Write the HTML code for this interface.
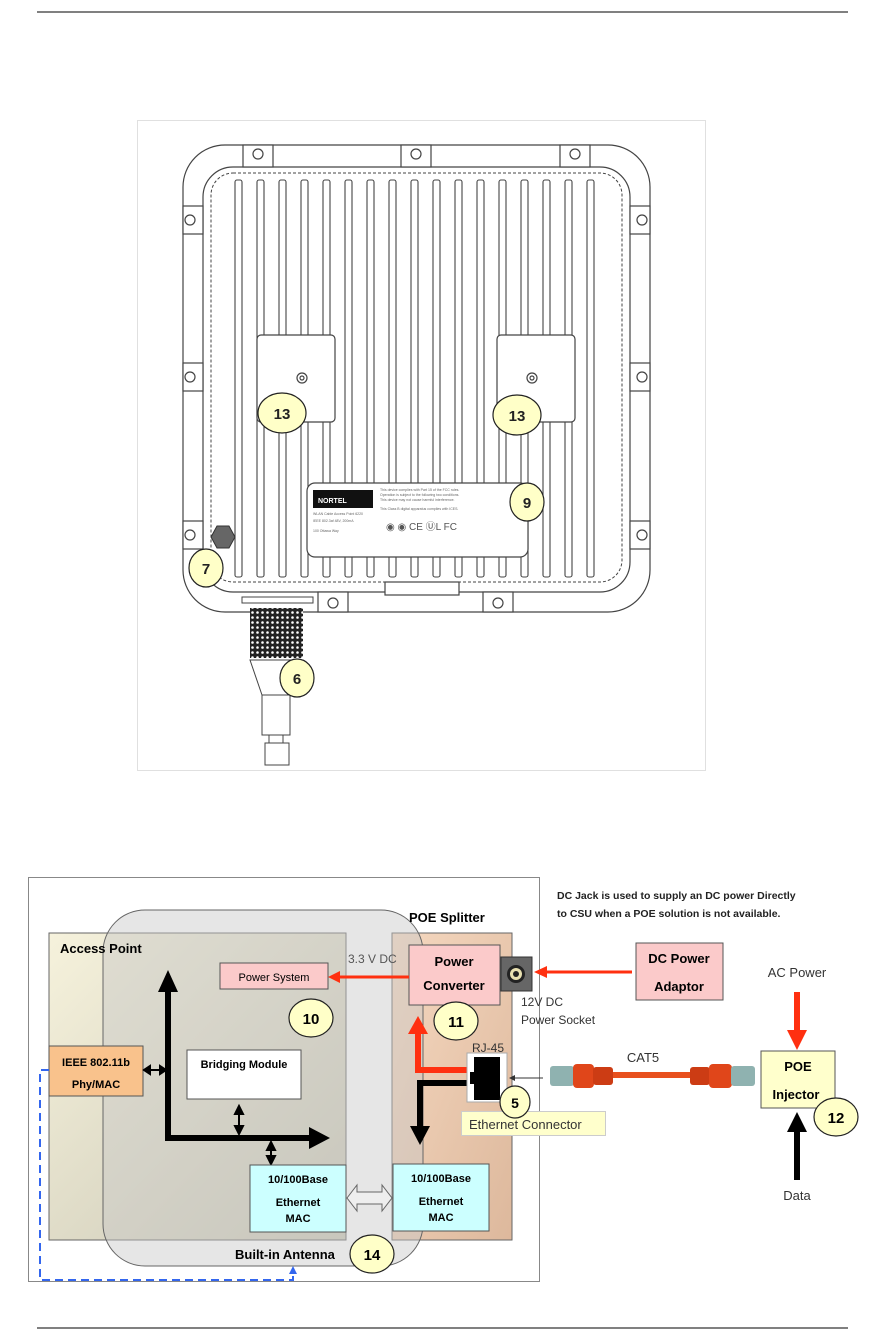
<!DOCTYPE html>
<html><head><meta charset="utf-8"><style>
html,body{margin:0;padding:0;background:#fff;}
svg{display:block;font-family:"Liberation Sans",Arial,sans-serif;}
</style></head><body>
<svg width="883" height="1341" viewBox="0 0 883 1341" xmlns="http://www.w3.org/2000/svg">
<defs>
<linearGradient id="apg" x1="0" y1="0" x2="1" y2="1">
<stop offset="0" stop-color="#f6f2dc"/><stop offset="1" stop-color="#c9c6b4"/></linearGradient>
<linearGradient id="poeg" x1="0" y1="0" x2="1" y2="1">
<stop offset="0" stop-color="#f5d8c0"/><stop offset="1" stop-color="#ddb89c"/></linearGradient>
<pattern id="knurl" width="5" height="5" patternUnits="userSpaceOnUse">
<rect width="5" height="5" fill="#222"/><circle cx="2.5" cy="2.5" r="1.3" fill="#fff"/></pattern>
</defs>
<line x1="37" y1="12" x2="848" y2="12" stroke="#000" stroke-width="1"/>
<line x1="37" y1="1328" x2="848" y2="1328" stroke="#000" stroke-width="1"/>

<!-- TOP FIGURE -->
<rect x="137.5" y="120.5" width="568" height="650" fill="#fff" stroke="#e0e0e0"/>
<g stroke="#444" fill="none" stroke-width="1.2">
<rect x="183" y="145" width="467" height="467" rx="42"/>
<rect x="203" y="167" width="427" height="425" rx="30"/>
<rect x="211" y="173" width="411" height="409" rx="22" stroke-dasharray="3,2" stroke-width="1"/>
</g>
<!-- fins -->
<g stroke="#444" fill="#fff" stroke-width="1.1">
<rect x="235" y="180" width="7" height="397" rx="2"/>
<rect x="257" y="180" width="7" height="397" rx="2"/>
<rect x="279" y="180" width="7" height="397" rx="2"/>
<rect x="301" y="180" width="7" height="397" rx="2"/>
<rect x="323" y="180" width="7" height="397" rx="2"/>
<rect x="345" y="180" width="7" height="397" rx="2"/>
<rect x="367" y="180" width="7" height="397" rx="2"/>
<rect x="389" y="180" width="7" height="397" rx="2"/>
<rect x="411" y="180" width="7" height="397" rx="2"/>
<rect x="433" y="180" width="7" height="397" rx="2"/>
<rect x="455" y="180" width="7" height="397" rx="2"/>
<rect x="477" y="180" width="7" height="397" rx="2"/>
<rect x="499" y="180" width="7" height="397" rx="2"/>
<rect x="521" y="180" width="7" height="397" rx="2"/>
<rect x="543" y="180" width="7" height="397" rx="2"/>
<rect x="565" y="180" width="7" height="397" rx="2"/>
<rect x="587" y="180" width="7" height="397" rx="2"/>
</g>
<g stroke="#444" fill="#fff" stroke-width="1.2">
<rect x="257" y="335" width="78" height="87" rx="4"/>
<rect x="497" y="335" width="78" height="87" rx="4"/>
<rect x="307" y="483" width="221" height="74" rx="8"/>
<circle cx="302" cy="378" r="5"/><circle cx="302" cy="378" r="2"/>
<circle cx="532" cy="378" r="5"/><circle cx="532" cy="378" r="2"/>
</g>
<!-- screws -->
<g stroke="#444" fill="#fff" stroke-width="1.2">
<rect x="243" y="145" width="30" height="22"/><circle cx="258" cy="154" r="5"/>
<rect x="401" y="145" width="30" height="22"/><circle cx="416" cy="154" r="5"/>
<rect x="560" y="145" width="30" height="22"/><circle cx="575" cy="154" r="5"/>
<rect x="183" y="206" width="20" height="28"/><circle cx="190" cy="220" r="5"/>
<rect x="183" y="363" width="20" height="28"/><circle cx="190" cy="377" r="5"/>
<rect x="183" y="521" width="20" height="28"/><circle cx="190" cy="535" r="5"/>
<rect x="630" y="206" width="20" height="28"/><circle cx="642" cy="220" r="5"/>
<rect x="630" y="363" width="20" height="28"/><circle cx="642" cy="377" r="5"/>
<rect x="630" y="521" width="20" height="28"/><circle cx="642" cy="535" r="5"/>
<rect x="318" y="592" width="30" height="20"/><circle cx="333" cy="603" r="5"/>
<rect x="483" y="592" width="30" height="20"/><circle cx="498" cy="603" r="5"/>
<rect x="385" y="582" width="74" height="13"/>
</g>
<!-- label contents -->
<rect x="313" y="490" width="60" height="18" fill="#111"/>
<text x="318" y="503" font-size="7" fill="#fff" font-weight="bold">NORTEL</text>
<g fill="#666" font-size="3.5">
<text x="313" y="515">WLAN Cable Access Point 6220</text>
<text x="313" y="522">IEEE 802.3af    48V, 200mA</text>
<text x="313" y="532">100 Ottawa Way</text>
<text x="380" y="491">This device complies with Part 15 of the FCC rules.</text>
<text x="380" y="496">Operation is subject to the following two conditions.</text>
<text x="380" y="501">This device may not cause harmful interference.</text>
<text x="380" y="510">This Class B digital apparatus complies with ICES.</text>
</g>
<text x="386" y="530" font-size="10" fill="#555">◉ ◉ CE ⓊL FC</text>
<!-- hex nut -->
<polygon points="211,537 217,526 229,526 235,537 229,548 217,548" fill="#666" stroke="#333"/>
<!-- connector -->
<rect x="242" y="597" width="71" height="6" fill="#fff" stroke="#444"/>
<rect x="250" y="608" width="53" height="50" fill="url(#knurl)"/>
<polygon points="250,660 303,660 293,695 262,695" fill="#fff" stroke="#444"/>
<rect x="262" y="695" width="28" height="40" fill="#fff" stroke="#444"/>
<rect x="269" y="735" width="14" height="8" fill="#fff" stroke="#444"/>
<rect x="265" y="743" width="24" height="22" fill="#fff" stroke="#444"/>
<!-- callouts -->
<g stroke="#222" stroke-width="1.2" fill="#ffffc8">
<ellipse cx="282" cy="413" rx="24" ry="20"/>
<ellipse cx="517" cy="415" rx="24" ry="20"/>
<ellipse cx="527" cy="502" rx="17" ry="19"/>
<ellipse cx="206" cy="568" rx="17" ry="19"/>
<ellipse cx="297" cy="678" rx="17" ry="19"/>
</g>
<g font-weight="bold" font-size="15" fill="#222" text-anchor="middle">
<text x="282" y="419">13</text><text x="517" y="421">13</text>
<text x="527" y="508">9</text><text x="206" y="574">7</text><text x="297" y="684">6</text>
</g>

<!-- BOTTOM DIAGRAM -->
<rect x="28.5" y="877.5" width="511" height="404" fill="#fff" stroke="#888"/>
<rect x="49" y="933" width="297" height="307" fill="url(#apg)" stroke="#666"/>
<rect x="392" y="933" width="120" height="307" fill="url(#poeg)" stroke="#666"/>
<rect x="103" y="910" width="320" height="356" rx="42" fill="#c8c8c8" fill-opacity="0.45" stroke="#666"/>
<text x="409" y="922" font-size="13" font-weight="bold">POE Splitter</text>
<text x="60" y="953" font-size="13" font-weight="bold">Access Point</text>
<text x="348" y="963" font-size="12" fill="#555">3.3 V DC</text>
<rect x="220" y="963" width="108" height="26" fill="#fbcaca" stroke="#555"/>
<text x="274" y="981" font-size="11" text-anchor="middle">Power System</text>
<rect x="409" y="945" width="91" height="60" fill="#fbcaca" stroke="#555"/>
<text x="454" y="966" font-size="13" font-weight="bold" text-anchor="middle">Power</text>
<text x="454" y="990" font-size="13" font-weight="bold" text-anchor="middle">Converter</text>
<rect x="501" y="957" width="31" height="34" fill="#666" stroke="#333"/>
<circle cx="516" cy="974" r="9" fill="#222"/><circle cx="516" cy="974" r="6" fill="#e8e0b0"/><circle cx="516" cy="974" r="3" fill="#222"/>
<!-- red arrow to power system -->
<line x1="409" y1="977" x2="338" y2="977" stroke="#ff3010" stroke-width="3"/>
<polygon points="328,977 340,971 340,983" fill="#ff3010"/>
<ellipse cx="311" cy="1018" rx="22" ry="19" fill="#ffffc8" stroke="#222" stroke-width="1.2"/>
<text x="311" y="1024" font-size="15" font-weight="bold" text-anchor="middle">10</text>
<ellipse cx="456" cy="1021" rx="22" ry="19" fill="#ffffc8" stroke="#222" stroke-width="1.2"/>
<text x="456" y="1027" font-size="15" font-weight="bold" text-anchor="middle">11</text>
<rect x="49" y="1046" width="94" height="50" fill="#f9c28c" stroke="#555"/>
<text x="96" y="1066" font-size="11" font-weight="bold" text-anchor="middle">IEEE 802.11b</text>
<text x="96" y="1088" font-size="11" font-weight="bold" text-anchor="middle">Phy/MAC</text>
<rect x="187" y="1050" width="114" height="49" fill="#fff" stroke="#555"/>
<text x="244" y="1068" font-size="11" font-weight="bold" text-anchor="middle">Bridging Module</text>
<!-- black bus arrow -->
<path d="M168 1138 V982" stroke="#000" stroke-width="6" fill="none"/>
<polygon points="168,970 158,992 178,992" fill="#000"/>
<path d="M165 1138 H314" stroke="#000" stroke-width="6" fill="none"/>
<polygon points="330,1138 309,1127 309,1149" fill="#000"/>
<!-- small double arrows -->
<g stroke="#000" stroke-width="2" fill="#000">
<line x1="148" y1="1070" x2="162" y2="1070"/>
<polygon points="144,1070 150,1066 150,1074"/><polygon points="166,1070 160,1066 160,1074"/>
<line x1="239" y1="1112" x2="239" y2="1130"/>
<polygon points="239,1106 235,1114 243,1114"/><polygon points="239,1134 235,1126 243,1126"/>
<line x1="271" y1="1146" x2="271" y2="1160"/>
<polygon points="271,1142 267,1150 275,1150"/><polygon points="271,1164 267,1156 275,1156"/>
</g>
<rect x="250" y="1165" width="96" height="67" fill="#ccffff" stroke="#555"/>
<text x="298" y="1183" font-size="11" font-weight="bold" text-anchor="middle">10/100Base</text>
<text x="298" y="1206" font-size="11" font-weight="bold" text-anchor="middle">Ethernet</text>
<text x="298" y="1222" font-size="11" font-weight="bold" text-anchor="middle">MAC</text>
<rect x="393" y="1164" width="96" height="67" fill="#ccffff" stroke="#555"/>
<text x="441" y="1182" font-size="11" font-weight="bold" text-anchor="middle">10/100Base</text>
<text x="441" y="1205" font-size="11" font-weight="bold" text-anchor="middle">Ethernet</text>
<text x="441" y="1221" font-size="11" font-weight="bold" text-anchor="middle">MAC</text>
<polygon points="347,1198 357,1185 357,1192 382,1192 382,1185 392,1198 382,1211 382,1204 357,1204 357,1211" fill="#eee" stroke="#666"/>
<text x="235" y="1259" font-size="13" font-weight="bold">Built-in Antenna</text>
<ellipse cx="372" cy="1254" rx="22" ry="19" fill="#ffffc8" stroke="#222" stroke-width="1.2"/>
<text x="372" y="1260" font-size="15" font-weight="bold" text-anchor="middle">14</text>
<!-- blue dashed -->
<path d="M49 1070 H40 V1280 H293 V1270" stroke="#3366ee" stroke-width="2" stroke-dasharray="8,5" fill="none"/>
<polygon points="293,1266 289,1274 297,1274" fill="#3366ee"/>
<!-- RJ45 -->
<text x="472" y="1052" font-size="12" fill="#333">RJ-45</text>
<path d="M467 1070 H418 V1030" stroke="#ff3010" stroke-width="6" fill="none"/>
<polygon points="418,1016 408,1034 428,1034" fill="#ff3010"/>
<path d="M467 1083 H420 V1128" stroke="#000" stroke-width="6" fill="none"/>
<polygon points="420,1145 410,1126 430,1126" fill="#000"/>
<rect x="467" y="1053" width="40" height="49" fill="#fff" stroke="#aaa"/>
<rect x="474" y="1057" width="26" height="43" fill="#000"/>
<rect x="470" y="1072" width="6" height="12" fill="#000"/>
<rect x="461.5" y="1111.5" width="144" height="24" fill="#ffffcc" stroke="#ccc"/>
<text x="469" y="1129" font-size="13" fill="#333">Ethernet Connector</text>
<ellipse cx="515" cy="1102" rx="15" ry="16" fill="#ffffc8" stroke="#222" stroke-width="1.2"/>
<text x="515" y="1108" font-size="14" font-weight="bold" text-anchor="middle">5</text>
<line x1="543" y1="1078" x2="512" y2="1078" stroke="#333"/>
<polygon points="509,1078 515,1075 515,1081" fill="#333"/>
<text x="521" y="1006" font-size="12" fill="#333">12V DC</text>
<text x="521" y="1024" font-size="12" fill="#333">Power Socket</text>
<text x="557" y="899" font-size="10.5" font-weight="bold" fill="#222">DC Jack is used to supply an DC power Directly</text>
<text x="557" y="917" font-size="10.5" font-weight="bold" fill="#222">to CSU when a POE solution is not available.</text>
<rect x="636" y="943" width="87" height="57" fill="#fbcaca" stroke="#555"/>
<text x="679" y="963" font-size="13" font-weight="bold" text-anchor="middle">DC Power</text>
<text x="679" y="991" font-size="13" font-weight="bold" text-anchor="middle">Adaptor</text>
<line x1="632" y1="972" x2="545" y2="972" stroke="#ff3010" stroke-width="3"/>
<polygon points="534,972 547,966 547,978" fill="#ff3010"/>
<text x="797" y="977" font-size="13" fill="#333" text-anchor="middle">AC Power</text>
<line x1="797" y1="992" x2="797" y2="1034" stroke="#ff3010" stroke-width="6"/>
<polygon points="797,1050 787,1030 807,1030" fill="#ff3010"/>
<rect x="761" y="1051" width="74" height="57" fill="#ffffcc" stroke="#555"/>
<text x="798" y="1071" font-size="13" font-weight="bold" text-anchor="middle">POE</text>
<text x="796" y="1099" font-size="13" font-weight="bold" text-anchor="middle">Injector</text>
<line x1="797" y1="1180" x2="797" y2="1128" stroke="#000" stroke-width="6"/>
<polygon points="797,1112 787,1132 807,1132" fill="#000"/>
<text x="797" y="1200" font-size="13" fill="#333" text-anchor="middle">Data</text>
<ellipse cx="836" cy="1117" rx="22" ry="19" fill="#ffffc8" stroke="#222" stroke-width="1.2"/>
<text x="836" y="1123" font-size="15" font-weight="bold" text-anchor="middle">12</text>
<!-- CAT5 cable -->
<text x="643" y="1062" font-size="13" fill="#333" text-anchor="middle">CAT5</text>
<rect x="612" y="1072" width="80" height="6" fill="#e8501e"/>
<rect x="550" y="1066" width="24" height="20" rx="3" fill="#8fb2b0"/>
<rect x="573" y="1064" width="21" height="24" rx="4" fill="#e0461a"/>
<rect x="593" y="1067" width="20" height="18" rx="3" fill="#cc3c14"/>
<rect x="690" y="1067" width="20" height="18" rx="3" fill="#cc3c14"/>
<rect x="709" y="1064" width="23" height="24" rx="4" fill="#e0461a"/>
<rect x="731" y="1066" width="24" height="20" rx="3" fill="#8fb2b0"/>
</svg>
</body></html>
